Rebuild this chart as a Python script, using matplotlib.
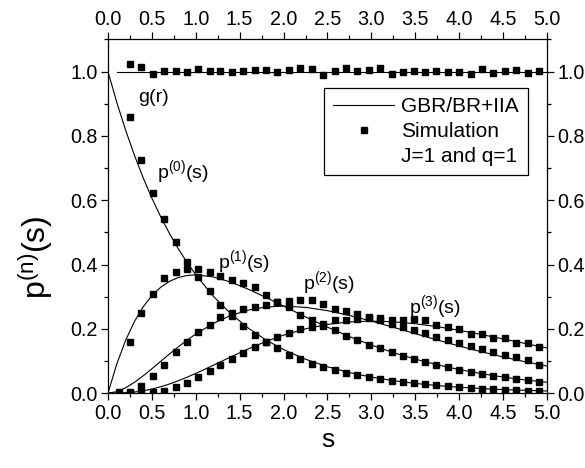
import matplotlib
matplotlib.use("Agg")
import matplotlib.pyplot as plt
from matplotlib.lines import Line2D
from matplotlib.ticker import MultipleLocator

plt.rcParams.update({"font.family": ["Liberation Sans", "DejaVu Sans"],
                     "mathtext.default": "regular"})

# GBR/BR+IIA curves
line_s = [0, 0.1, 0.2, 0.3, 0.4, 0.5, 0.6, 0.7, 0.8, 0.9, 1.0, 1.2, 1.4, 1.6,
          1.8, 2.0, 2.25, 2.5, 2.75, 3.0, 3.25, 3.5, 3.75, 4.0, 4.25, 4.5, 4.75, 5.0]
line_p0 = [1.0, 0.9048, 0.8187, 0.7408, 0.6703, 0.6065, 0.5488, 0.4966, 0.4493, 0.4066,
           0.3679, 0.3012, 0.2466, 0.2019, 0.1653, 0.1353, 0.1054, 0.0821, 0.0639, 0.0498,
           0.0388, 0.0302, 0.0235, 0.0183, 0.0143, 0.0111, 0.0087, 0.0067]
line_p1 = [0, 0.0905, 0.1637, 0.2222, 0.2681, 0.3033, 0.3293, 0.3476, 0.3595, 0.3659,
           0.3679, 0.3614, 0.3452, 0.3230, 0.2975, 0.2707, 0.2371, 0.2052, 0.1758, 0.1494,
           0.1261, 0.1057, 0.0882, 0.0733, 0.0606, 0.0500, 0.0411, 0.0337]
line_p2 = [0, 0.0045, 0.0164, 0.0333, 0.0536, 0.0758, 0.0988, 0.1217, 0.1438, 0.1647,
           0.1839, 0.2169, 0.2417, 0.2584, 0.2678, 0.2707, 0.2668, 0.2565, 0.2417, 0.2240,
           0.2049, 0.1850, 0.1654, 0.1465, 0.1288, 0.1125, 0.0976, 0.0842]
line_p3 = [0, 0.0002, 0.0011, 0.0033, 0.0072, 0.0126, 0.0198, 0.0284, 0.0383, 0.0494,
           0.0613, 0.0867, 0.1128, 0.1378, 0.1607, 0.1804, 0.2001, 0.2138, 0.2216, 0.2240,
           0.2220, 0.2158, 0.2068, 0.1954, 0.1825, 0.1687, 0.1545, 0.1404]
line_g_s = [0.1, 5.0]
line_g = [1.0, 1.0]

# simulation, J=1 and q=1
sim_s = [0.12, 0.25, 0.38, 0.51, 0.64, 0.77, 0.90, 1.03, 1.16, 1.28, 1.41, 1.54, 1.67,
         1.80, 1.93, 2.06, 2.19, 2.32, 2.45, 2.58, 2.71, 2.84, 2.97, 3.10, 3.23, 3.36,
         3.49, 3.61, 3.74, 3.87, 4.00, 4.13, 4.26, 4.39, 4.52, 4.65, 4.78, 4.91]
sim_g = [1.024, 1.013, 0.994, 1.003, 1.002, 0.998, 1.007, 1.003, 1.003, 0.999, 1.002,
         1.005, 1.005, 0.999, 1.006, 1.011, 1.009, 0.991, 1.003, 1.012, 1.002, 1.005,
         1.010, 0.993, 0.999, 1.001, 1.0, 1.001, 0.999, 1.0, 0.994, 1.008, 0.997, 1.002,
         1.005, 0.996, 1.002]
sim_p0 = [0.858, 0.725, 0.623, 0.541, 0.471, 0.409, 0.36, 0.318, 0.275, 0.24, 0.21,
          0.182, 0.16, 0.139, 0.12, 0.105, 0.092, 0.081, 0.072, 0.064, 0.056, 0.05,
          0.044, 0.039, 0.034, 0.030, 0.027, 0.024, 0.021, 0.018, 0.016, 0.014, 0.012,
          0.011, 0.009, 0.008, 0.007]
sim_p1 = [0.16, 0.25, 0.307, 0.359, 0.376, 0.385, 0.385, 0.378, 0.365, 0.352, 0.341,
          0.329, 0.305, 0.284, 0.267, 0.243, 0.226, 0.21, 0.195, 0.179, 0.164, 0.151,
          0.139, 0.127, 0.116, 0.106, 0.097, 0.088, 0.08, 0.073, 0.066, 0.06, 0.054,
          0.049, 0.044, 0.04, 0.036]
sim_p2 = [0.003, 0.022, 0.054, 0.087, 0.127, 0.16, 0.19, 0.212, 0.237, 0.25, 0.262,
          0.267, 0.274, 0.282, 0.287, 0.291, 0.289, 0.277, 0.262, 0.256, 0.247, 0.238,
          0.227, 0.216, 0.207, 0.196, 0.186, 0.176, 0.166, 0.156, 0.147, 0.137, 0.129,
          0.119, 0.111, 0.103, 0.089]
sim_p3 = [0.003, 0.001, 0.002, 0.004, 0.008, 0.018, 0.032, 0.051, 0.07, 0.086, 0.105,
          0.126, 0.145, 0.16, 0.174, 0.188, 0.198, 0.207, 0.216, 0.226, 0.228, 0.232,
          0.234, 0.235, 0.228, 0.226, 0.23, 0.229, 0.213, 0.205, 0.201, 0.184, 0.183,
          0.171, 0.17, 0.157, 0.155, 0.145]

fig = plt.figure(figsize=(5.85, 4.68), dpi=100)
ax = fig.add_axes([0.1846, 0.160, 0.7504, 0.7556])

lkw = dict(color="black", lw=0.8)
ax.plot(line_g_s, line_g, **lkw)
for ys in (line_p0, line_p1, line_p2, line_p3):
    ax.plot(line_s, ys, **lkw)

mkw = dict(ls="none", marker="s", ms=3.8, color="black")
ax.plot(sim_s[1:], sim_g, **mkw)
ax.plot(sim_s[1:], sim_p0, **mkw)
ax.plot(sim_s[1:], sim_p1, **mkw)
ax.plot(sim_s[1:], sim_p2, **mkw)
ax.plot(sim_s, sim_p3, **mkw)

tkw = dict(fontsize=14, va="center", ha="left")
ax.text(0.34, 0.92, "g(r)", **tkw)
ax.text(0.56, 0.688, r"$p^{(0)}(s)$", **tkw)
ax.text(1.25, 0.408, r"$p^{(1)}(s)$", **tkw)
ax.text(2.22, 0.342, r"$p^{(2)}(s)$", **tkw)
ax.text(3.43, 0.268, r"$p^{(3)}(s)$", **tkw)

ax.set_xlim(0, 5)
ax.set_ylim(0, 1.1)
ax.xaxis.set_major_locator(MultipleLocator(0.5))
ax.xaxis.set_minor_locator(MultipleLocator(0.25))
ax.set_yticks([0, 0.2, 0.4, 0.6, 0.8, 1.0])
ax.yaxis.set_minor_locator(MultipleLocator(0.1))
ax.xaxis.set_major_formatter(lambda v, p: f"{v:.1f}")
ax.yaxis.set_major_formatter(lambda v, p: f"{v:.1f}")
ax.tick_params(which="both", direction="out", top=True, right=True,
               labeltop=True, labelright=True, labelsize=14.2, width=0.9, pad=2.5)
ax.tick_params(which="major", length=5)
ax.tick_params(which="minor", length=3)
for sp in ax.spines.values():
    sp.set_linewidth(0.9)

ax.set_xlabel("s", fontsize=19, labelpad=4)
ax.set_ylabel(r"$p^{(n)}(s)$", fontsize=23)
ax.yaxis.set_label_coords(-0.12, 0.385)

handles = [Line2D([], [], **lkw), Line2D([], [], **mkw), Line2D([], [], ls="none")]
labels = ["GBR/BR+IIA", "Simulation", "J=1 and q=1"]
leg = ax.legend(handles, labels, loc="upper left", bbox_to_anchor=(0.492, 0.863),
                borderaxespad=0, fontsize=15, frameon=True, fancybox=False,
                edgecolor="black", framealpha=1, handlelength=2.9, handletextpad=0.35,
                borderpad=0.45, labelspacing=0.28)
leg.get_frame().set_linewidth(0.9)

fig.savefig("out.png", dpi=100)
